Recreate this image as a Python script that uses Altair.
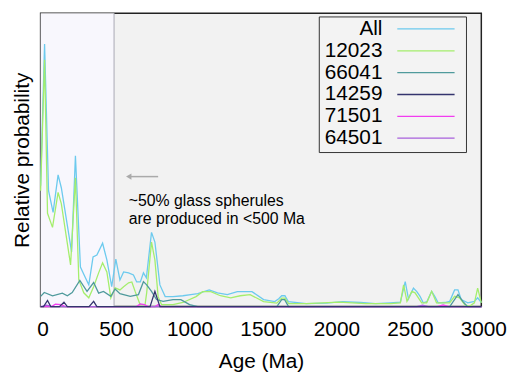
import altair as alt
import pandas as pd

series_names = ["All", "12023", "66041", "14259", "71501", "64501"]
series_colors = ["#6ccaee", "#a4ee6c", "#4f9a9c", "#34346e", "#f23cf0", "#a860dc"]
draw_order = ["All", "12023", "66041", "71501", "64501", "14259"]

all_age = [0, 27, 54, 85, 119, 141, 211, 237, 271, 305, 328, 357, 383, 422, 451, 484,
           512, 540, 565, 599, 632, 654, 679, 700, 720, 755, 778, 812, 848, 901, 969,
           1022, 1070, 1148, 1204, 1271, 1339, 1439, 1518, 1594, 1621, 1641, 1663, 1686,
           1809, 1944, 2056, 2179, 2280, 2381, 2449, 2482, 2504, 2538, 2561, 2583, 2605,
           2630, 2662, 2684, 2706, 2751, 2785, 2818, 2841, 2863, 2908, 2953, 2975, 3000]
all_val = [0.412, 0.895, 0.395, 0.321, 0.449, 0.405, 0.186, 0.514, 0.135, 0.098, 0.074,
           0.169, 0.176, 0.216, 0.159, 0.068, 0.162, 0.091, 0.118, 0.115, 0.108, 0.084,
           0.084, 0.115, 0.098, 0.253, 0.220, 0.074, 0.034, 0.034, 0.037, 0.041, 0.044,
           0.057, 0.047, 0.041, 0.051, 0.051, 0.024, 0.017, 0.027, 0.037, 0.037, 0.017,
           0.010, 0.012, 0.017, 0.014, 0.010, 0.013, 0.015, 0.085, 0.026, 0.063, 0.051,
           0.035, 0.013, 0.017, 0.052, 0.034, 0.013, 0.014, 0.018, 0.057, 0.057, 0.024,
           0.013, 0.018, 0.030, 0.014]

s12023_age = [0, 27, 47, 81, 119, 141, 204, 237, 260, 294, 328, 361, 395, 422, 451, 478,
              507, 540, 565, 599, 621, 644, 677, 711, 722, 755, 778, 800, 823, 901, 969,
              1058, 1103, 1159, 1224, 1294, 1359, 1426, 1518, 1608, 1641, 1663, 1688, 1809,
              2031, 2213, 2381, 2449, 2471, 2494, 2527, 2549, 2594, 2628, 2662, 2695, 2785,
              2818, 2852, 2886, 2919, 2953, 2975, 3000]
s12023_val = [0.395, 0.841, 0.318, 0.270, 0.389, 0.351, 0.142, 0.439, 0.091, 0.047, 0.030,
              0.068, 0.115, 0.149, 0.118, 0.030, 0.064, 0.057, 0.068, 0.081, 0.084, 0.051,
              0.007, 0.007, 0.047, 0.220, 0.159, 0.034, 0.007, 0.007, 0.014, 0.034, 0.051,
              0.051, 0.037, 0.030, 0.037, 0.041, 0.017, 0.012, 0.029, 0.029, 0.010, 0.010,
              0.015, 0.010, 0.010, 0.013, 0.074, 0.018, 0.052, 0.047, 0.013, 0.013, 0.052,
              0.013, 0.013, 0.035, 0.030, 0.007, 0.001, 0.013, 0.063, 0.013]

s66041_age = [0, 25, 81, 148, 182, 215, 267, 316, 361, 395, 428, 478, 507, 540, 610, 666,
              700, 722, 755, 789, 834, 901, 955, 1014, 1070, 1608, 1641, 1661, 1688, 2785,
              2841, 2874, 2906, 3000]
s66041_val = [0.035, 0.048, 0.037, 0.046, 0.037, 0.048, 0.089, 0.052, 0.082, 0.046, 0.052,
              0.035, 0.060, 0.044, 0.035, 0.041, 0.085, 0.074, 0.052, 0.024, 0.018, 0.024,
              0.024, 0.007, 0.0, 0.0, 0.024, 0.024, 0.0, 0.0, 0.041, 0.018, 0.0, 0.0]

s14259_age = [0, 20, 47, 69, 128, 159, 182, 330, 361, 383, 745, 778, 812, 3000]
s14259_val = [0.0, 0.0, 0.021, 0.0, 0.0, 0.015, 0.0, 0.0, 0.018, 0.0, 0.0, 0.052, 0.0, 0.0]

s71501_age = [0, 74, 101, 141, 168, 652, 679, 706, 733, 780, 800, 820, 2700, 2740, 2780, 3000]
s71501_val = [0.0, 0.0, 0.008, 0.007, 0.0, 0.0, 0.009, 0.007, 0.0, 0.0, 0.007, 0.0, 0.0,
              0.006, 0.0, 0.0]

s64501_age = [0, 40, 80, 2560, 2600, 2640, 3000]
s64501_val = [0.0, 0.005, 0.0, 0.0, 0.005, 0.0, 0.0]

x_ticks = [0, 500, 1000, 1500, 2000, 2500, 3000]
shade_start, shade_end = 0, 500
note_text = "~50% glass spherules\nare produced in <500 Ma"
note_age, note_value = 600, 0.36
arrow_from, arrow_to, arrow_value = 800, 600, 0.443

series_data = {
    "All": (all_age, all_val),
    "12023": (s12023_age, s12023_val),
    "66041": (s66041_age, s66041_val),
    "14259": (s14259_age, s14259_val),
    "71501": (s71501_age, s71501_val),
    "64501": (s64501_age, s64501_val),
}
rows = []
for name in draw_order:
    ages, vals = series_data[name]
    for a, v in zip(ages, vals):
        rows.append({"series": name, "age": a, "value": v})
df = pd.DataFrame(rows)

# legend layout (in the chart's own data coordinates)
LEG_LEFT, LEG_RIGHT, LEG_TOP, LEG_BOTTOM = 1897, 2899, 0.987, 0.525
LEG_LABEL_X, LEG_SYM_FROM, LEG_SYM_TO = 2327, 2428, 2818
LEG_ROW0, LEG_STEP = 0.946, 0.0744
legend_df = pd.DataFrame({
    "series": series_names,
    "lx": [LEG_LABEL_X] * len(series_names),
    "s0": [LEG_SYM_FROM] * len(series_names),
    "s1": [LEG_SYM_TO] * len(series_names),
    "ly": [LEG_ROW0 - i * LEG_STEP for i in range(len(series_names))],
})

FONT = "Liberation Sans"
xscale = alt.Scale(domain=[0, 3000], nice=False, zero=False)
yscale = alt.Scale(domain=[0, 1], nice=False, zero=False)
cscale = alt.Scale(domain=series_names, range=series_colors)

xaxis = alt.Axis(title="Age (Ma)", values=x_ticks, format="d", ticks=False, domain=False,
                 grid=False, labelFontSize=21, titleFontSize=21, labelPadding=12,
                 titlePadding=12, labelColor="black", titleColor="black",
                 labelFlush=False, labelOverlap=False, labelOffset=2,
                 titleFontWeight="normal", labelFont=FONT, titleFont=FONT)
yaxis = alt.Axis(title="Relative probability", labels=False, ticks=False, domain=False,
                 grid=False, titleFontSize=21, titlePadding=8, titleColor="black",
                 titleFontWeight="normal", titleFont=FONT)

shade = alt.Chart(pd.DataFrame({"start": [shade_start], "end": [shade_end]})).mark_rect(
    color="#f8f7fd").encode(
    x=alt.X("start:Q", scale=xscale, axis=xaxis),
    x2="end:Q",
    y=alt.Y(datum=0, scale=yscale, axis=yaxis),
    y2=alt.Y2(datum=1),
)

marker = alt.Chart(pd.DataFrame({"age": [shade_end]})).mark_rule(
    color="#aaaab4", strokeWidth=1).encode(
    x=alt.X("age:Q", scale=xscale),
    y=alt.Y(datum=0, scale=yscale),
    y2=alt.Y2(datum=1),
)

lines = alt.Chart(df).mark_line(strokeWidth=1.3).encode(
    x=alt.X("age:Q", scale=xscale),
    y=alt.Y("value:Q", scale=yscale),
    color=alt.Color("series:N", scale=cscale, legend=None),
    detail="series:N",
)

note = alt.Chart(pd.DataFrame({"age": [note_age], "value": [note_value], "t": [note_text]})
                 ).mark_text(align="left", baseline="middle", fontSize=16, font=FONT,
                             lineBreak="\n", lineHeight=18, color="black").encode(
    x=alt.X("age:Q", scale=xscale),
    y=alt.Y("value:Q", scale=yscale),
    text="t:N",
)

arrow_df = pd.DataFrame({"a": [arrow_from], "b": [arrow_to], "value": [arrow_value]})
arrow_line = alt.Chart(arrow_df).mark_rule(color="#aaaaaa", strokeWidth=1.5).encode(
    x=alt.X("a:Q", scale=xscale), x2="b:Q", y=alt.Y("value:Q", scale=yscale))
arrow_head = alt.Chart(arrow_df).mark_point(shape="triangle-left", filled=True,
                                            size=40, color="#aaaaaa", opacity=1).encode(
    x=alt.X("b:Q", scale=xscale), y=alt.Y("value:Q", scale=yscale))

legend_box = alt.Chart(pd.DataFrame({"x0": [LEG_LEFT], "x1": [LEG_RIGHT],
                                     "y0": [LEG_BOTTOM], "y1": [LEG_TOP]})).mark_rect(
    fill="#f3f3f3", stroke="#333333", strokeWidth=1).encode(
    x=alt.X("x0:Q", scale=xscale), x2="x1:Q",
    y=alt.Y("y0:Q", scale=yscale), y2="y1:Q")
legend_sym = alt.Chart(legend_df).mark_rule(strokeWidth=1.3).encode(
    x=alt.X("s0:Q", scale=xscale), x2="s1:Q",
    y=alt.Y("ly:Q", scale=yscale),
    color=alt.Color("series:N", scale=cscale, legend=None))
legend_txt = alt.Chart(legend_df).mark_text(
    align="right", baseline="middle", fontSize=21, font=FONT, color="black").encode(
    x=alt.X("lx:Q", scale=xscale),
    y=alt.Y("ly:Q", scale=yscale),
    text="series:N")

chart = alt.layer(shade, marker, lines, note, arrow_line, arrow_head,
                  legend_box, legend_sym, legend_txt).properties(
    width=446, height=297,
    autosize=alt.AutoSizeParams(type="none"),
    padding={"left": 33, "top": 3, "right": 27, "bottom": 66},
).configure(font=FONT).configure_view(
    fill="#f2f2f2", stroke="#222222", strokeWidth=1.5
)

chart.save("out.html", embed_options={"renderer": "svg", "actions": False})
